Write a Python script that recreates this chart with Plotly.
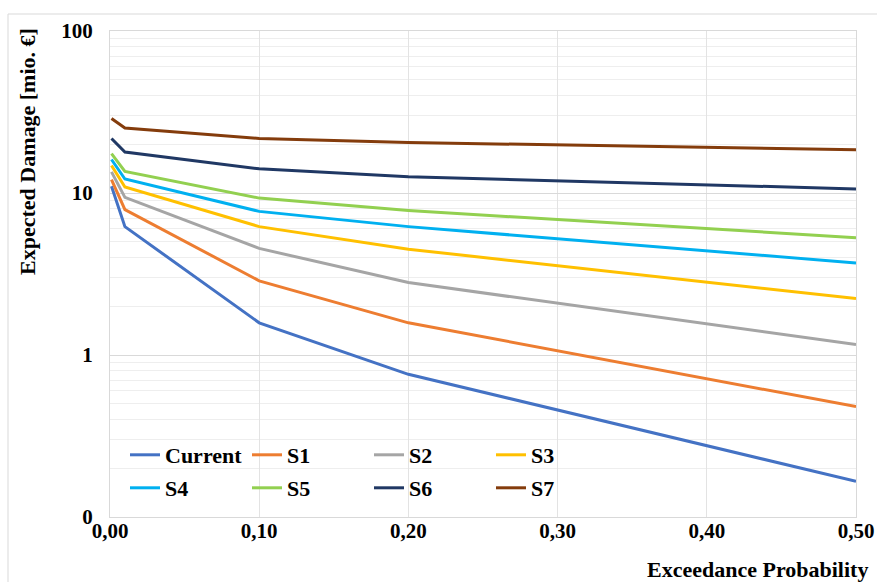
import plotly.graph_objects as go

# Exceedance probabilities (x) and expected damage per scenario (mio. €)
probability = [0.001, 0.01, 0.1, 0.2, 0.5]

series_names = ["Current", "S1", "S2", "S3", "S4", "S5", "S6", "S7"]
current = [11.0, 6.2, 1.58, 0.76, 0.166]
s1 = [12.1, 7.9, 2.87, 1.58, 0.48]
s2 = [13.5, 9.4, 4.55, 2.8, 1.16]
s3 = [14.8, 10.9, 6.2, 4.5, 2.23]
s4 = [16.1, 12.2, 7.7, 6.2, 3.7]
s5 = [17.5, 13.6, 9.3, 7.8, 5.3]
s6 = [21.7, 17.9, 14.1, 12.6, 10.6]
s7 = [28.8, 25.2, 21.7, 20.5, 18.5]

y_tickvals = [0.1, 1, 10, 100]
y_ticktext = ["0", "1", "10", "100"]

series_values = [current, s1, s2, s3, s4, s5, s6, s7]
colors = ["#4472C4", "#ED7D31", "#A5A5A5", "#FFC000",
          "#00B0F0", "#92D050", "#203864", "#843C0C"]

W, H = 877, 582
ML, MR, MT, MB = 110, 21, 31, 65
PW, PH = W - ML - MR, H - MT - MB


def px_x(px):
    return (px - ML) / PW


def px_y(py):
    return (H - MB - py) / PH


FONT = "Liberation Serif"

fig = go.Figure()
for i, (name, vals, col) in enumerate(zip(series_names, series_values, colors)):
    fig.add_trace(go.Scatter(
        x=probability, y=vals, name=name, mode="lines",
        line=dict(color=col, width=3),
        legend="legend" if i < 4 else "legend2",
    ))

legend_common = dict(
    orientation="h", xanchor="left", yanchor="middle",
    bgcolor="rgba(0,0,0,0)", entrywidth=77, entrywidthmode="pixels",
    font=dict(family=FONT, size=22, color="#000000", weight="bold"),
    itemwidth=30, tracegroupgap=0,
)

fig.update_layout(
    width=W, height=H,
    margin=dict(l=ML, r=MR, t=MT, b=MB, pad=0, autoexpand=False),
    paper_bgcolor="white", plot_bgcolor="white",
    separators=",.",
    showlegend=True,
    legend=dict(x=px_x(125), y=px_y(455), **legend_common),
    legend2=dict(x=px_x(125), y=px_y(488), **legend_common),
    xaxis=dict(
        range=[0, 0.5], dtick=0.1, tick0=0, tickformat=".2f",
        showgrid=True, gridcolor="#e3e3e3", gridwidth=1,
        showline=True, mirror=True, linecolor="#d9d9d9", linewidth=1,
        zeroline=False, ticks="", automargin=False, ticklabelstandoff=-5,
        tickfont=dict(family=FONT, size=21, color="#000000", weight="bold"),
    ),
    yaxis=dict(
        type="log", range=[-1, 2],
        tickmode="array", tickvals=y_tickvals, ticktext=y_ticktext,
        showgrid=True, gridcolor="#d9d9d9", gridwidth=1,
        minor=dict(dtick="D1", showgrid=True, gridcolor="#eeeeee", gridwidth=1, ticks=""),
        showline=True, mirror=True, linecolor="#d9d9d9", linewidth=1,
        zeroline=False, ticks="", ticklabelstandoff=12, automargin=False,
        tickfont=dict(family=FONT, size=21, color="#000000", weight="bold"),
    ),
)

# outer chart frame
fig.add_shape(type="rect", xref="paper", yref="paper",
              x0=px_x(8), x1=px_x(W + 20), y0=px_y(H + 20), y1=px_y(14),
              line=dict(color="#d9d9d9", width=1), fillcolor="rgba(0,0,0,0)",
              layer="below")

# axis titles
fig.add_annotation(
    text="Expected Damage [mio. €]", textangle=-90,
    xref="paper", yref="paper", x=px_x(27), y=px_y(152),
    xanchor="center", yanchor="middle", showarrow=False,
    font=dict(family=FONT, size=22, color="#000000", weight="bold"),
)
fig.add_annotation(
    text="Exceedance Probability",
    xref="paper", yref="paper", x=px_x(645), y=px_y(569),
    xanchor="left", yanchor="middle", showarrow=False,
    font=dict(family=FONT, size=22, color="#000000", weight="bold"),
)

fig.write_html("out.html")
